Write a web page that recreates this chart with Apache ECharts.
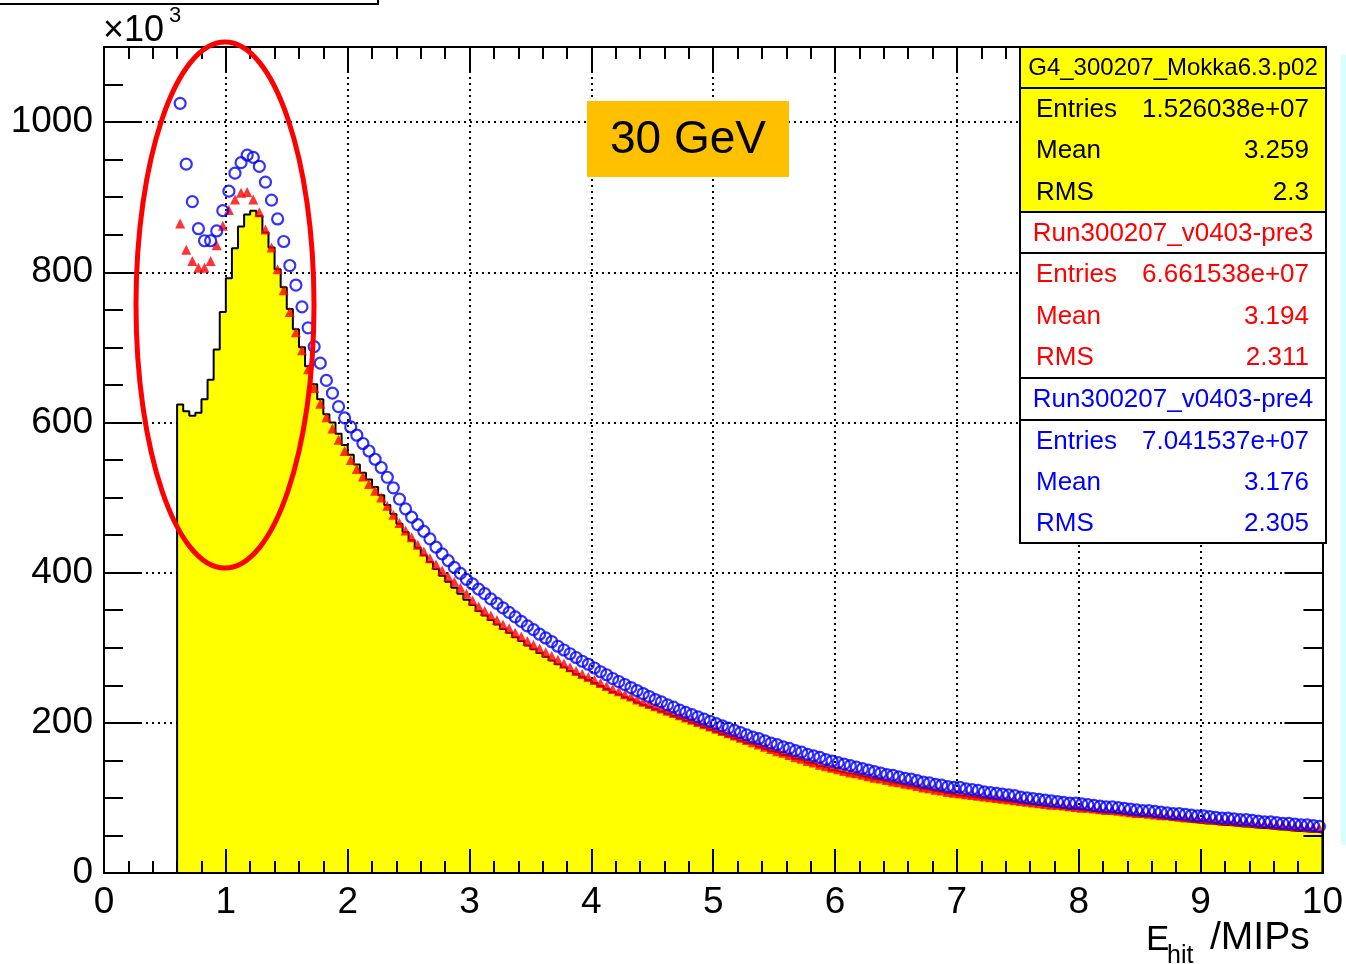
<!DOCTYPE html>
<html>
<head>
<meta charset="utf-8">
<script src="https://cdn.jsdelivr.net/npm/echarts@6/dist/echarts.min.js"></script>
<style>
html, body { margin: 0; padding: 0; background: #fff; }
#main { width: 1346px; height: 964px; }
</style>
</head>
<body>
<div id="main"></div>
<script>
// bins of 0.05 MIP from 0.6 to 10 (188 bins), values in units of 10^3
var binLo = 0.6, binW = 0.05;

// G4_300207_Mokka6.3.p02 (yellow histogram)
var g4 = [
    624, 615, 609, 613, 631, 657, 697, 747,
    792, 832, 861, 877, 882, 875, 853, 833, 804, 780, 751, 724, 700, 675, 651, 631, 611, 600, 585, 570,
    557, 544, 533, 524, 514, 503, 490, 478, 465, 454, 443, 433, 423, 414, 405, 396, 388, 380, 372, 364,
    357, 349, 343, 337, 331, 325, 320, 314, 309, 303, 298, 293, 288, 283, 278, 274, 269, 265, 261, 257,
    253, 249, 245, 241, 238, 234, 231, 227, 224, 221, 218, 215, 212, 209, 206, 203, 200, 197, 194, 191,
    188, 185, 182, 179, 176, 173, 171, 168, 165, 162, 160, 157, 155, 152, 150, 147, 145, 142, 140, 137,
    135, 133, 132, 130, 128, 126, 125, 123, 121, 120, 118, 116, 115, 113, 112, 110, 109, 107, 106, 104,
    103, 102, 101, 100, 99, 98, 97, 96, 95, 94, 93, 92, 91, 90, 89, 88, 87, 86, 85, 85,
    84, 83, 82, 81, 81, 80, 79, 78, 77, 77, 76, 75, 74, 73, 72, 71, 70, 69, 68, 67,
    66, 66, 65, 64, 64, 63, 62, 62, 61, 60, 60, 59, 58, 58, 57, 56, 56, 55, 55, 54
];

// Run300207_v0403-pre3 (red triangles)
var pre3 = [
    865, 830, 815, 806, 806, 815, 836, 862,
    883, 897, 906, 907, 897, 880, 857, 833, 804, 776, 747, 720, 696, 671, 646, 625, 607, 592, 577, 562,
    550, 538, 528, 518, 509, 500, 489, 477, 466, 456, 447, 437, 428, 419, 411, 403, 395, 388, 380, 372,
    363, 355, 349, 343, 337, 331, 326, 320, 315, 309, 304, 299, 294, 289, 284, 279, 274, 269, 265, 261,
    257, 253, 249, 245, 242, 238, 235, 231, 228, 225, 222, 219, 216, 213, 210, 207, 204, 201, 198, 195,
    192, 189, 186, 183, 180, 177, 174, 171, 168, 165, 162, 160, 157, 154, 152, 149, 147, 144, 142, 140,
    138, 136, 134, 133, 131, 129, 127, 126, 124, 122, 121, 119, 118, 116, 114, 113, 111, 110, 108, 107,
    106, 105, 104, 103, 102, 101, 100, 99, 98, 97, 96, 95, 94, 93, 92, 91, 91, 90, 89, 88,
    87, 87, 86, 85, 84, 84, 83, 82, 81, 80, 80, 79, 78, 77, 77, 76, 75, 74, 74, 73,
    72, 72, 71, 70, 70, 69, 68, 68, 67, 66, 66, 65, 64, 64, 63, 62, 62, 61, 61, 60
];

// Run300207_v0403-pre4 (blue open circles)
var pre4 = [
    1025, 944, 894, 858, 842, 842, 855, 882,
    908, 932, 946, 956, 953, 941, 920, 896, 871, 841, 809, 783, 754, 726, 701, 679, 656, 639, 621, 606,
    594, 583, 572, 562, 551, 540, 527, 513, 498, 485, 474, 464, 455, 445, 434, 425, 416, 407, 399, 391,
    385, 378, 372, 365, 359, 353, 347, 341, 335, 329, 324, 318, 313, 308, 302, 297, 292, 287, 282, 278,
    273, 268, 264, 259, 255, 251, 247, 243, 239, 235, 231, 228, 224, 221, 217, 214, 211, 208, 205, 202,
    199, 196, 193, 190, 187, 184, 181, 179, 176, 173, 171, 168, 166, 163, 161, 158, 156, 154, 151, 149,
    147, 145, 143, 141, 139, 137, 135, 133, 131, 130, 128, 126, 125, 123, 121, 120, 118, 117, 115, 114,
    114, 112, 111, 110, 108, 107, 106, 105, 104, 103, 101, 100, 99, 98, 97, 96, 95, 94, 93, 93,
    92, 91, 90, 89, 88, 88, 87, 86, 85, 84, 83, 83, 82, 81, 80, 79, 79, 78, 77, 76,
    76, 75, 74, 73, 73, 72, 71, 71, 70, 69, 68, 68, 67, 66, 66, 65, 64, 64, 63, 62
];

// stats boxes
var statNames = ['G4_300207_Mokka6.3.p02', 'Run300207_v0403-pre3', 'Run300207_v0403-pre4'];
var statEntries = ['1.526038e+07', '6.661538e+07', '7.041537e+07'];
var statMean = ['3.259', '3.194', '3.176'];
var statRms = ['2.3', '2.311', '2.305'];

var FONT = 'Liberation Sans, Arial, sans-serif';
var black = '#000';

function r3(v) { return Math.round(v * 1000) / 1000; }

// histogram outline: left bin edges, step at the end of each bin
var histPts = [[binLo, 0]];
for (var i = 0; i < g4.length; i++) {
    histPts.push([r3(binLo + i * binW), g4[i]]);
}
histPts.push([r3(binLo + g4.length * binW), g4[g4.length - 1]]);
histPts.push([r3(binLo + g4.length * binW), 0]);

function centers(arr) {
    var out = [];
    for (var i = 0; i < arr.length; i++) {
        out.push([r3(binLo + (i + 0.5) * binW), arr[i]]);
    }
    return out;
}

function tickAxis(pos, interval, len, labels, isX) {
    var ax = {
        type: 'value',
        position: pos,
        min: 0,
        max: isX ? 10 : 1100,
        interval: interval,
        z: 10,
        axisLine: { show: true, onZero: false, lineStyle: { color: black, width: 2 } },
        axisTick: { show: true, inside: true, length: len, lineStyle: { color: black, width: 2 } },
        axisLabel: { show: false },
        splitLine: { show: false }
    };
    if (labels) {
        ax.axisLabel = {
            show: true, color: black, fontSize: 37, fontFamily: FONT, margin: 11,
            formatter: function (v) { return v > 1000 ? '' : String(v); }
        };
    }
    return ax;
}

var gridAxisX = {
    type: 'value', position: 'bottom', min: 0, max: 10, interval: 1, z: 0,
    axisLine: { show: false, onZero: false }, axisTick: { show: false }, axisLabel: { show: false },
    splitLine: { show: true, lineStyle: { color: '#000', width: 2, type: [2, 4] } }
};
var gridAxisY = {
    type: 'value', position: 'left', min: 0, max: 1100, interval: 200, z: 0,
    axisLine: { show: false, onZero: false }, axisTick: { show: false }, axisLabel: { show: false },
    splitLine: { show: true, lineStyle: { color: '#000', width: 2, type: [2, 4] } }
};

// stats box graphics
var boxRows = [[47, 88, 212], [212, 253, 378], [378, 420, 543]];
var boxFill = ['#ffff00', '#ffffff', '#ffffff'];
var boxText = ['#000000', '#ff0000', '#0000ff'];
var graphics = [];
for (var b = 0; b < 3; b++) {
    var yTop = boxRows[b][0], yMid = boxRows[b][1], yBot = boxRows[b][2];
    graphics.push({ type: 'rect', z: 100, shape: { x: 1020, y: yTop, width: 306, height: yMid - yTop },
        style: { fill: boxFill[b], stroke: black, lineWidth: 2 } });
    graphics.push({ type: 'rect', z: 100, shape: { x: 1020, y: yMid, width: 306, height: yBot - yMid },
        style: { fill: boxFill[b], stroke: black, lineWidth: 2 } });
    graphics.push({ type: 'text', z: 101, x: 1173, y: (yTop + yMid) / 2 + 1,
        style: { text: statNames[b], fill: boxText[b], font: (b === 0 ? 24 : 26) + 'px ' + FONT,
            align: 'center', verticalAlign: 'middle' } });
    var labs = ['Entries', 'Mean', 'RMS'];
    var vals = [statEntries[b], statMean[b], statRms[b]];
    for (var k = 0; k < 3; k++) {
        var yy = yMid + (yBot - yMid) * (k + 0.5) / 3 + 1;
        graphics.push({ type: 'text', z: 101, x: 1036, y: yy,
            style: { text: labs[k], fill: boxText[b], font: '26px ' + FONT, align: 'left', verticalAlign: 'middle' } });
        graphics.push({ type: 'text', z: 101, x: 1309, y: yy,
            style: { text: vals[k], fill: boxText[b], font: '26px ' + FONT, align: 'right', verticalAlign: 'middle' } });
    }
}
// energy label
graphics.push({ type: 'rect', z: 100, shape: { x: 587, y: 101, width: 202, height: 76 }, style: { fill: '#ffc000' } });
graphics.push({ type: 'text', z: 101, x: 688, y: 140,
    style: { text: '30 GeV', fill: black, font: '46px ' + FONT, align: 'center', verticalAlign: 'middle' } });
// highlight ellipse
graphics.push({ type: 'ellipse', z: 110, shape: { cx: 225, cy: 305, rx: 89, ry: 263 },
    style: { fill: 'none', stroke: '#ff0000', lineWidth: 5 } });
// exponent
graphics.push({ type: 'text', z: 101, x: 103, y: 49,
    style: { text: '\u00d710', fill: black, font: '36px ' + FONT, align: 'left', verticalAlign: 'bottom' } });
graphics.push({ type: 'text', z: 101, x: 169, y: 27,
    style: { text: '3', fill: black, font: '22px ' + FONT, align: 'left', verticalAlign: 'bottom' } });
// axis title
graphics.push({ type: 'text', z: 101, x: 1146, y: 958,
    style: { text: 'E', fill: black, font: '35px ' + FONT, align: 'left', verticalAlign: 'bottom' } });
graphics.push({ type: 'text', z: 101, x: 1167, y: 969,
    style: { text: 'hit', fill: black, font: '25px ' + FONT, align: 'left', verticalAlign: 'bottom' } });
graphics.push({ type: 'text', z: 101, x: 1210, y: 958,
    style: { text: '/MIPs', fill: black, font: '39px ' + FONT, align: 'left', verticalAlign: 'bottom' } });
// cut-off title box at the top
graphics.push({ type: 'rect', z: 100, shape: { x: -4, y: -10, width: 382, height: 14 },
    style: { fill: '#fff', stroke: black, lineWidth: 2 } });
// light strip on the right border
graphics.push({ type: 'rect', z: 100, shape: { x: 1341, y: 55, width: 5, height: 790 },
    style: { fill: '#d8ffff' } });

var myChart = echarts.init(document.getElementById('main'), null, { renderer: 'canvas' });
var option = {
    animation: false,
    backgroundColor: '#fff',
    grid: { left: 104, top: 47, width: 1222, height: 826, containLabel: false },
    xAxis: [
        tickAxis('bottom', 1, 24, true, true),
        tickAxis('bottom', 0.2, 12, false, true),
        tickAxis('top', 1, 24, false, true),
        tickAxis('top', 0.2, 12, false, true),
        gridAxisX
    ],
    yAxis: [
        tickAxis('left', 200, 38, true, false),
        tickAxis('left', 50, 19, false, false),
        tickAxis('right', 200, 38, false, false),
        tickAxis('right', 50, 19, false, false),
        gridAxisY
    ],
    series: [
        {
            name: statNames[0], type: 'line', step: 'end', xAxisIndex: 0, yAxisIndex: 0,
            data: histPts, symbol: 'none', z: 2,
            lineStyle: { color: black, width: 2 },
            areaStyle: { color: '#ffff00', opacity: 1 }
        },
        {
            name: statNames[1], type: 'scatter', xAxisIndex: 0, yAxisIndex: 0,
            data: centers(pre3), symbol: 'triangle', symbolSize: 10, z: 3,
            itemStyle: { color: '#ff0000' }
        },
        {
            name: statNames[2], type: 'scatter', xAxisIndex: 0, yAxisIndex: 0,
            data: centers(pre4), symbol: 'circle', symbolSize: 11, z: 4,
            itemStyle: { color: 'rgba(0,0,0,0)', borderColor: '#0000ff', borderWidth: 2.2 }
        }
    ],
    graphic: { elements: graphics }
};
myChart.setOption(option);
</script>
</body>
</html>
